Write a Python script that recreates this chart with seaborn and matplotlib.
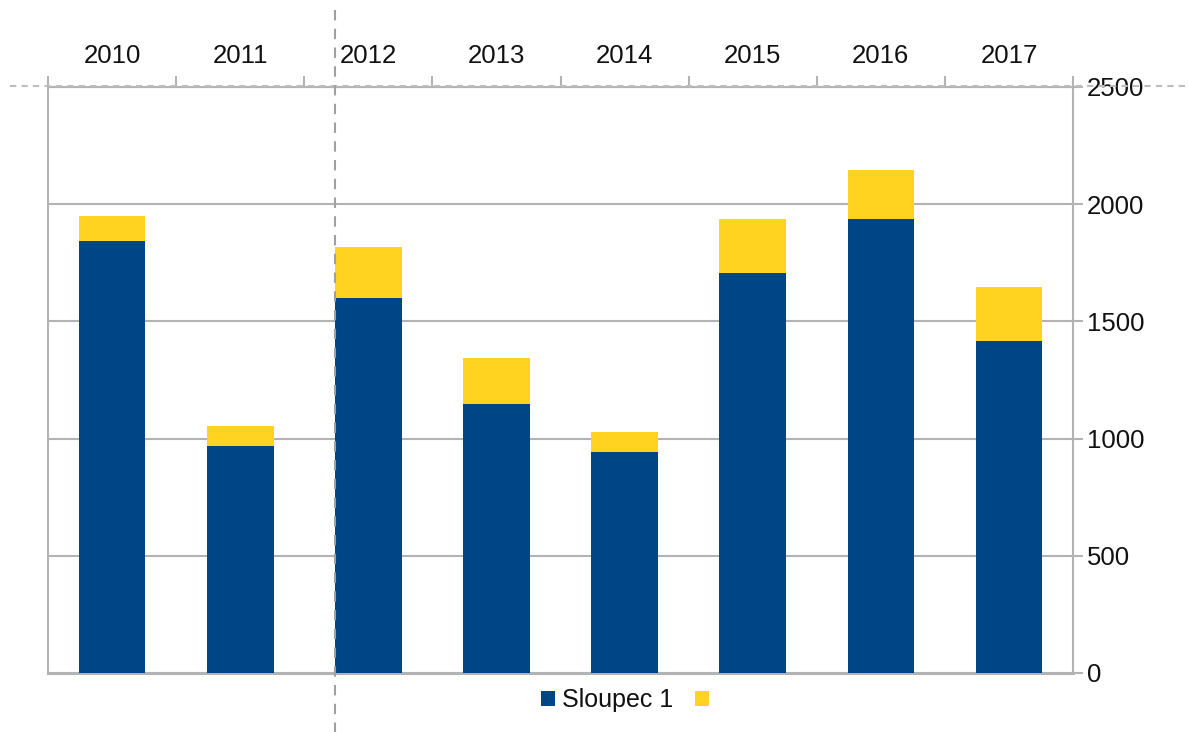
import matplotlib
matplotlib.use("Agg")
import matplotlib.pyplot as plt
import seaborn as sns
import pandas as pd
import numpy as np
from matplotlib.patches import Patch
from matplotlib.lines import Line2D

years = ["2010", "2011", "2012", "2013", "2014", "2015", "2016", "2017"]
sloupec1 = [1843, 968, 1600, 1148, 943, 1706, 1937, 1416]
sloupec2 = [107, 86, 217, 196, 85, 231, 209, 231]
y_ticks = [0, 500, 1000, 1500, 2000, 2500]

BLUE = "#004586"
YELLOW = "#ffd320"
GRAY = "#b3b3b3"

sns.set_style("white")
plt.rcParams["font.family"] = ["Liberation Sans", "DejaVu Sans"]

df = pd.DataFrame({"year": years, "s1": sloupec1, "s2": sloupec2})
df["total"] = df["s1"] + df["s2"]

fig = plt.figure(figsize=(11.88, 7.32), dpi=100)
ax = fig.add_axes([48/1188, 1-673/732, (1073-48)/1188, (673-87)/732])

sns.barplot(data=df, x="year", y="total", color=YELLOW, width=0.52,
            saturation=1, ax=ax, zorder=3, edgecolor="none")
sns.barplot(data=df, x="year", y="s1", color=BLUE, width=0.52,
            saturation=1, ax=ax, zorder=4, edgecolor="none")

ax.set_xlim(-0.5, len(years) - 0.5)
ax.set_ylim(0, 2500)
ax.set_xlabel("")
ax.set_ylabel("")

# grid
ax.set_yticks(y_ticks)
ax.yaxis.grid(True, color=GRAY, linewidth=1.5, zorder=1)
ax.set_axisbelow(True)

# y axis on right
ax.yaxis.tick_right()
ax.tick_params(axis="y", which="major", direction="out", length=7, width=1.5,
               color=GRAY, labelsize=18.5, pad=3, labelcolor="#111111")
ax.set_yticklabels([str(v) for v in y_ticks])

# x axis on top: boundaries as major ticks, labels at centers via minor ticks
ax.xaxis.tick_top()
ax.set_xticks(np.arange(len(years) + 1) - 0.5)
ax.set_xticklabels([])
ax.set_xticks(np.arange(len(years)), minor=True)
ax.set_xticklabels(years, minor=True)
ax.tick_params(axis="x", which="major", direction="out", length=8, width=1.5,
               color=GRAY, top=True, bottom=False)
ax.tick_params(axis="x", which="minor", length=0, labelsize=18.5, pad=14,
               top=True, bottom=False, labeltop=True, labelbottom=False,
               labelcolor="#111111")

for side in ["left", "right", "top"]:
    ax.spines[side].set_color(GRAY)
    ax.spines[side].set_linewidth(1.5)
ax.spines["bottom"].set_color(GRAY)
ax.spines["bottom"].set_linewidth(2.2)

# legend
handles = [Patch(facecolor=BLUE, edgecolor="none", label="Sloupec 1"),
           Patch(facecolor=YELLOW, edgecolor="none", label=" ")]
leg = fig.legend(handles=handles, loc="center", bbox_to_anchor=(632/1188, 1-700/732),
                 ncol=2, frameon=False, fontsize=18, handlelength=0.56, handleheight=0.56,
                 handletextpad=0.28, columnspacing=0.9, labelcolor="#111111")

# decorative dashed guides
fig.add_artist(Line2D([10/1188, 1.0], [1-86/732, 1-86/732], transform=fig.transFigure,
                      color="#bdbdbd", linewidth=1.5, linestyle=(0, (3, 2.5)), zorder=10))
fig.add_artist(Line2D([335/1188, 335/1188], [1-10/732, 0.0], transform=fig.transFigure,
                      color="#a0a0a0", linewidth=1.5, linestyle=(0, (5, 4)), zorder=10))

fig.savefig("out.png", dpi=100)
